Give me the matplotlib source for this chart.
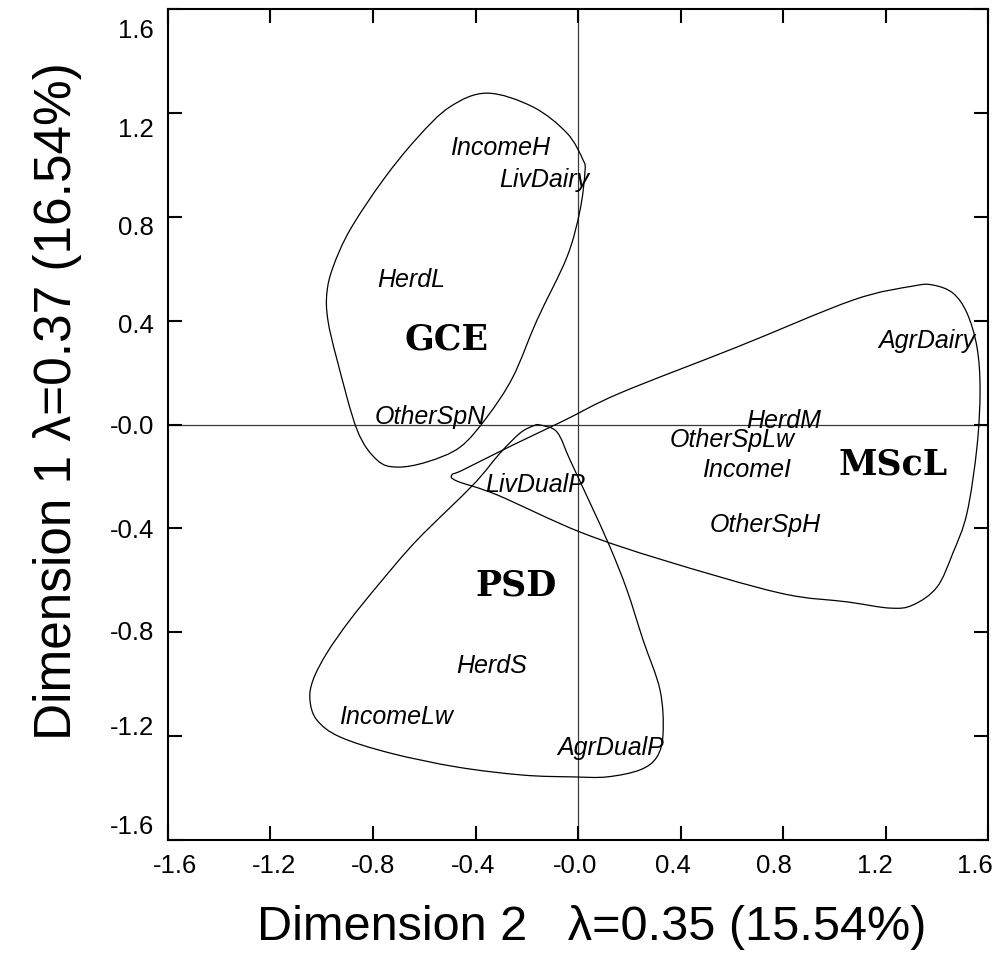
import numpy as np
import matplotlib
matplotlib.use('Agg')
import matplotlib.pyplot as plt
from matplotlib.path import Path
from matplotlib.patches import PathPatch
from matplotlib.transforms import ScaledTranslation

# category positions (dimension 2, dimension 1)
var_names = ['IncomeH', 'LivDairy', 'HerdL', 'OtherSpN', 'LivDualP', 'AgrDairy',
             'HerdM', 'OtherSpLw', 'IncomeI', 'OtherSpH', 'HerdS', 'IncomeLw', 'AgrDualP']
var_x = [-0.305, -0.133, -0.652, -0.578, -0.168, 1.363,
         0.804, 0.601, 0.656, 0.730, -0.336, -0.711, 0.129]
var_y = [1.038, 0.915, 0.529, 0.002, -0.260, 0.295,
         -0.013, -0.087, -0.202, -0.414, -0.957, -1.153, -1.273]

group_names = ['GCE', 'MScL', 'PSD']
group_x = [-0.512, 1.230, -0.242]
group_y = [0.287, -0.194, -0.657]

# outlines of the three clusters
gce_x = [-0.355, -0.176, -0.043, 0.020, 0.027, 0.008, -0.043, -0.160, -0.254, -0.355,
         -0.460, -0.589, -0.706, -0.784, -0.862, -0.940, -0.976, -0.980, -0.956, -0.890,
         -0.761, -0.628, -0.500]
gce_y = [1.276, 1.223, 1.122, 1.018, 0.972, 0.826, 0.645, 0.402, 0.183, 0.029,
         -0.087, -0.144, -0.164, -0.137, -0.021, 0.248, 0.402, 0.506, 0.606, 0.749,
         0.941, 1.103, 1.223]

mscl_x = [-0.492, -0.449, -0.254, -0.059, 0.164, 0.620, 1.073, 1.307, 1.385, 1.463,
          1.518, 1.557, 1.569, 1.557, 1.518, 1.463, 1.401, 1.307, 1.218, 1.050,
          0.788, 0.332, 0.008, -0.316, -0.472]
mscl_y = [-0.194, -0.175, -0.079, 0.013, 0.121, 0.298, 0.479, 0.533, 0.537, 0.506,
          0.429, 0.298, 0.133, -0.086, -0.341, -0.495, -0.626, -0.695, -0.707, -0.683,
          -0.649, -0.522, -0.414, -0.271, -0.218]

psd_x = [-0.148, -0.082, -0.031, 0.047, 0.125, 0.191, 0.254, 0.320, 0.332, 0.308,
         0.242, 0.113, -0.020, -0.215, -0.472, -0.734, -0.929, -1.019, -1.046, -1.034,
         -0.980, -0.890, -0.773, -0.628, -0.410, -0.304, -0.226, -0.176]
psd_y = [-0.002, -0.029, -0.137, -0.302, -0.472, -0.637, -0.830, -1.022, -1.188, -1.280,
         -1.330, -1.357, -1.357, -1.350, -1.319, -1.265, -1.203, -1.138, -1.061, -0.984,
         -0.880, -0.753, -0.610, -0.445, -0.233, -0.110, -0.033, -0.006]

tick_vals = [-1.6, -1.2, -0.8, -0.4, 0.0, 0.4, 0.8, 1.2, 1.6]
tick_labels = ['-1.6', '-1.2', '-0.8', '-0.4', '-0.0', '0.4', '0.8', '1.2', '1.6']


def closed_curve(xs, ys):
    # smooth closed outline through the given points (Catmull-Rom as cubic beziers)
    pts = np.column_stack([xs, ys])
    n = len(pts)
    verts = [pts[0]]
    codes = [Path.MOVETO]
    for i in range(n):
        p0, p1, p2, p3 = pts[i - 1], pts[i], pts[(i + 1) % n], pts[(i + 2) % n]
        verts += [p1 + (p2 - p0) / 6.0, p2 - (p3 - p1) / 6.0, p2]
        codes += [Path.CURVE4] * 3
    return Path(verts, codes)


plt.rcParams['font.family'] = ['Liberation Sans', 'DejaVu Sans']

fig = plt.figure(figsize=(9.93, 9.67), dpi=100)
ax = fig.add_axes([168 / 993, 127 / 967, 820 / 993, 831 / 967])

ax.axhline(0, color='#3a3a3a', lw=0.9, zorder=1)
ax.axvline(0, color='#3a3a3a', lw=0.9, zorder=1)

for xs, ys in [(gce_x, gce_y), (mscl_x, mscl_y), (psd_x, psd_y)]:
    ax.add_patch(PathPatch(closed_curve(xs, ys), fill=False, ec='black', lw=0.9, zorder=2))

for name, x, y in zip(var_names, var_x, var_y):
    ax.text(x, y, name, ha='center', va='baseline', style='italic', fontsize=18, zorder=3)

for name, x, y in zip(group_names, group_x, group_y):
    ax.text(x, y, name, ha='center', va='baseline', family='DejaVu Serif',
            fontweight='bold', fontsize=25, zorder=3)

ax.set_xlim(-1.6, 1.6)
ax.set_ylim(-1.6, 1.6)
ax.set_xticks(tick_vals)
ax.set_xticklabels(tick_labels)
ax.set_yticks(tick_vals)
ax.set_yticklabels(tick_labels)
ax.tick_params(direction='in', length=10, width=1.5, top=True, right=True,
               labelsize=18.5, pad=10)
for s in ax.spines.values():
    s.set_linewidth(1.5)

# the labels sit a little off their tick marks
x_shift = [7, 4, 0, -2, -3, -8, -9, -11, -13]
y_shift = [16, 11, 2, 0, 0, -3, -9, -15, -19]
for lab, dx in zip(ax.get_xticklabels(), x_shift):
    lab.set_transform(lab.get_transform() + ScaledTranslation(dx / 100, 0, fig.dpi_scale_trans))
for lab, dy in zip(ax.get_yticklabels(), y_shift):
    lab.set_transform(lab.get_transform() + ScaledTranslation(0, dy / 100, fig.dpi_scale_trans))

fig.text(592 / 993, 1 - 927 / 967, 'Dimension 2   \u03bb=0.35 (15.54%)',
         ha='center', va='center', fontsize=35)
fig.text(58 / 993, 1 - 401 / 967, 'Dimension 1 \u03bb=0.37 (16.54%)',
         ha='center', va='center', rotation=90, fontsize=37)

fig.savefig('out.png', dpi=100)
